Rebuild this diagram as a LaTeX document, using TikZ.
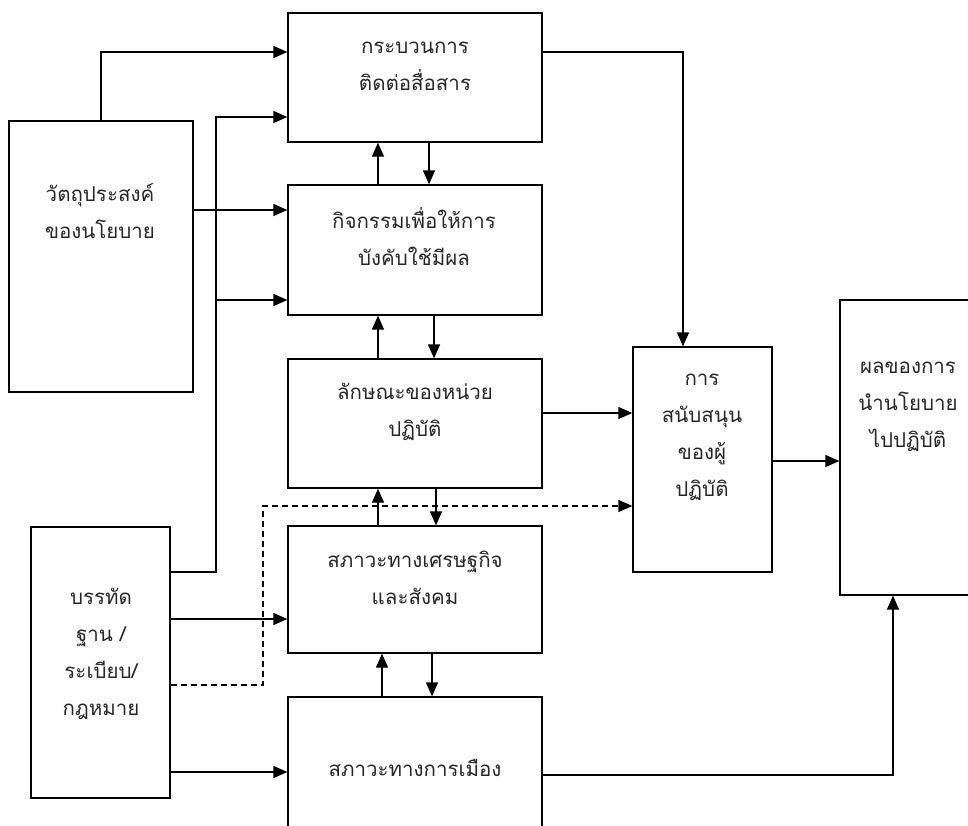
\documentclass[tikz,border=0pt]{standalone}
\usepackage{fontspec}
\newfontfamily\thaifont[Script=Thai]{Loma}
\usetikzlibrary{arrows.meta}
\begin{document}
\begin{tikzpicture}[x=1pt,y=-1pt,
  box/.style={draw, line width=1.3pt, inner sep=0pt, rectangle},
  txt/.style={align=center, font=\thaifont\fontsize{20.5}{37}\selectfont, inner sep=0pt, text=black!85},
  arr/.style={line width=1.3pt, -{Triangle[length=14pt,width=12pt]}},
  dline/.style={arr, dash pattern=on 6pt off 4pt}]
\useasboundingbox (0,0) rectangle (968,825);
\clip (0,0) rectangle (968,825);
% boxes
\node[box, minimum width=254pt, minimum height=129pt] (A) at (415,77.5) {};
\node[box, minimum width=254pt, minimum height=130pt] (B) at (415,250) {};
\node[box, minimum width=254pt, minimum height=129pt] (C) at (415,423.5) {};
\node[box, minimum width=254pt, minimum height=127pt] (D) at (415,589.5) {};
\node[box, minimum width=254pt, minimum height=140pt] (E) at (415,767) {};
\node[box, minimum width=184pt, minimum height=271pt] (F) at (101,256.5) {};
\node[box, minimum width=139pt, minimum height=271pt] (G) at (100.5,662.5) {};
\node[box, minimum width=139pt, minimum height=225pt] (H) at (702.5,459.5) {};
\node[box, minimum width=140pt, minimum height=295pt] (I) at (910,447.5) {};
% texts
\node[txt] (tA) at (415,66) {กระบวนการ\\ติดต่อสื่อสาร};
\node[txt] (tB) at (414,237) {กิจกรรมเพื่อให้การ\\บังคับใช้มีผล};
\node[txt] (tC) at (415,412) {ลักษณะของหน่วย\\ปฏิบัติ};
\node[txt] (tD) at (415,578) {สภาวะทางเศรษฐกิจ\\และสังคม};
\node[txt] (tE) at (415,768) {สภาวะทางการเมือง};
\node[txt] (tF) at (100,211) {วัตถุประสงค์\\ของนโยบาย};
\node[txt] (tG) at (101,654) {บรรทัด\\ฐาน /\\ระเบียบ/\\กฎหมาย};
\node[txt] (tH) at (702,437) {การ\\สนับสนุน\\ของผู้\\ปฏิบัติ};
\node[txt] (tI) at (908,407) {ผลของการ\\นำนโยบาย\\ไปปฏิบัติ};
% connectors from F
\draw[arr] (F.north) |- (A.west |- 0,52);
\draw[arr] (F.east |- 0,210) -- (B.west |- 0,210);
% from G
\coordinate (j) at (216,300);
\draw[arr] (G.east |- 0,572) -- (216,572) -- (216,117) -- (A.west |- 0,117);
\draw[arr] (j) -- (B.west |- j);
\draw[arr] (G.east |- 0,619) -- (D.west |- 0,619);
\draw[arr] (G.east |- 0,772) -- (E.west |- 0,772);
\draw[dline] (G.east |- 0,685) -- (263,685) -- (263,506) -- (H.west |- 0,506);
% vertical pairs
\draw[arr] (B.north -| 378,0) -- (A.south -| 378,0);
\draw[arr] (A.south -| 429,0) -- (B.north -| 429,0);
\draw[arr] (C.north -| 378,0) -- (B.south -| 378,0);
\draw[arr] (B.south -| 434,0) -- (C.north -| 434,0);
\draw[arr] (D.north -| 378,0) -- (C.south -| 378,0);
\draw[arr] (C.south -| 436,0) -- (D.north -| 436,0);
\draw[arr] (E.north -| 382,0) -- (D.south -| 382,0);
\draw[arr] (D.south -| 432,0) -- (E.north -| 432,0);
% to H and I
\draw[arr] (A.east |- 0,52) -| (H.north -| 683,0);
\draw[arr] (C.east |- 0,413) -- (H.west |- 0,413);
\draw[arr] (H.east |- 0,461) -- (I.west |- 0,461);
\draw[arr] (E.east |- 0,775) -| (I.south -| 893,0);
\end{tikzpicture}
\end{document}
